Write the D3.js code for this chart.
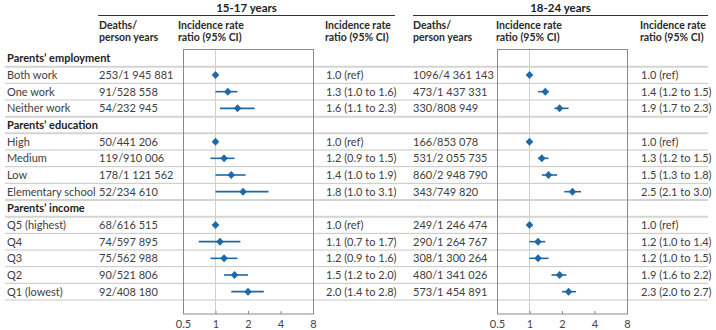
<!DOCTYPE html>
<html>
<head>
<meta charset="utf-8">
<script src="https://cdn.jsdelivr.net/npm/d3@7"></script>
<style>
  body { margin: 0; background: #fff; }
  text { font-family: Lato, "Open Sans", sans-serif; }
</style>
</head>
<body>
<div id="container"></div>
<script>
var width = 716,
    height = 330;

// data
var groups = ["Parents\u2019 employment", "Parents\u2019 education", "Parents\u2019 income"];
var categories = ["Both work", "One work", "Neither work",
    "High", "Medium", "Low", "Elementary school",
    "Q5 (highest)", "Q4", "Q3", "Q2", "Q1 (lowest)"];
var categoryGroup = [0, 0, 0, 1, 1, 1, 1, 2, 2, 2, 2, 2];

var deathsA = ["253/1 945 881", "91/528 558", "54/232 945",
    "50/441 206", "119/910 006", "178/1 121 562", "52/234 610",
    "68/616 515", "74/597 895", "75/562 988", "90/521 806", "92/408 180"];
var irrA = [1.0, 1.3, 1.6, 1.0, 1.2, 1.4, 1.8, 1.0, 1.1, 1.2, 1.5, 2.0];
var lowA = [null, 1.0, 1.1, null, 0.9, 1.0, 1.0, null, 0.7, 0.9, 1.2, 1.4];
var highA = [null, 1.6, 2.3, null, 1.5, 1.9, 3.1, null, 1.7, 1.6, 2.0, 2.8];

var deathsB = ["1096/4 361 143", "473/1 437 331", "330/808 949",
    "166/853 078", "531/2 055 735", "860/2 948 790", "343/749 820",
    "249/1 246 474", "290/1 264 767", "308/1 300 264", "480/1 341 026", "573/1 454 891"];
var irrB = [1.0, 1.4, 1.9, 1.0, 1.3, 1.5, 2.5, 1.0, 1.2, 1.2, 1.9, 2.3];
var lowB = [null, 1.2, 1.7, null, 1.2, 1.3, 2.1, null, 1.0, 1.0, 1.6, 2.0];
var highB = [null, 1.5, 2.3, null, 1.5, 1.8, 3.0, null, 1.4, 1.5, 2.2, 2.7];

var ticks = [0.5, 1, 2, 4, 8];

var svg = d3.select('#container')
    .append('svg')
    .attr('width', width)
    .attr('height', height);

// build rows: group header rows + category rows
var rows = [];
groups.forEach(function(g, gi) {
    rows.push({ key: 'g' + gi, header: true, label: g });
    categories.forEach(function(c, i) {
        if (categoryGroup[i] === gi) rows.push({ key: 'c' + i, header: false, label: c, i: i });
    });
});

var scaleY = d3.scaleBand()
    .domain(rows.map(function(d) { return d.key; }))
    .range([50, 300]);
var rowH = scaleY.bandwidth();

var txt = '#404040',
    blue = '#1f68a6';

// row separator lines
rows.forEach(function(d, k) {
    var next = rows[k + 1];
    var thick = d.header || (next && next.header);
    svg.append('line')
        .attr('x1', 5).attr('x2', 708)
        .attr('y1', scaleY(d.key) + rowH).attr('y2', scaleY(d.key) + rowH)
        .attr('stroke', thick ? '#d4d4d4' : '#c6c6c6')
        .attr('stroke-width', thick ? 2 : 1);
});

// row labels
rows.forEach(function(d) {
    svg.append('text')
        .attr('x', 7)
        .attr('y', scaleY(d.key) + rowH / 2 + 4)
        .attr('font-size', 11)
        .attr('font-weight', d.header ? 'bold' : 'normal')
        .attr('fill', d.header ? '#222' : txt)
        .text(d.label);
});

function fmt(v, lo, hi) {
    if (lo === null) return v.toFixed(1) + ' (ref)';
    return v.toFixed(1) + ' (' + lo.toFixed(1) + ' to ' + hi.toFixed(1) + ')';
}

function panel(opt) {
    var scaleX = d3.scaleLog().base(2)
        .domain([0.5, 8])
        .range([opt.x0, opt.x0 + 130]);

    // title + rule
    svg.append('line')
        .attr('x1', opt.lineX[0]).attr('x2', opt.lineX[1])
        .attr('y1', 15.5).attr('y2', 15.5)
        .attr('stroke', '#333');
    svg.append('text')
        .attr('x', (opt.lineX[0] + opt.lineX[1]) / 2)
        .attr('y', 12)
        .attr('text-anchor', 'middle')
        .attr('font-size', 11.5)
        .attr('font-weight', 'bold')
        .attr('fill', '#222')
        .text(opt.title);

    // column headers
    [[opt.deathsX, ['Deaths/', 'person years']],
     [opt.headX, ['Incidence rate', 'ratio (95% CI)']],
     [opt.textX, ['Incidence rate', 'ratio (95% CI)']]].forEach(function(h) {
        h[1].forEach(function(line, li) {
            svg.append('text')
                .attr('x', h[0])
                .attr('y', 29 + li * 12)
                .attr('font-size', 10.5)
                .attr('font-weight', 'bold')
                .attr('fill', '#2a2a2a')
                .text(line);
        });
    });

    // plot box
    svg.append('rect')
        .attr('x', opt.x0 + 0.5).attr('y', 49.5)
        .attr('width', 130).attr('height', 264.5)
        .attr('fill', 'none')
        .attr('stroke', '#8a8a8a');

    // reference line at 1
    svg.append('line')
        .attr('x1', scaleX(1)).attr('x2', scaleX(1))
        .attr('y1', 50).attr('y2', 313.5)
        .attr('stroke', '#f3c2bb');

    // axis
    var axis = svg.append('g')
        .attr('transform', 'translate(0,314)')
        .call(d3.axisBottom(scaleX).tickValues(ticks).tickFormat(d3.format('')).tickSize(-3).tickPadding(6));
    axis.select('.domain').remove();
    axis.selectAll('line').attr('stroke', '#8a8a8a');
    axis.selectAll('text')
        .attr('font-size', 11)
        .attr('fill', '#444')
        .style('font-family', 'Lato, "Open Sans", sans-serif');

    categories.forEach(function(c, i) {
        var cy = scaleY('c' + i) + rowH / 2;
        svg.append('text')
            .attr('x', opt.deathsX)
            .attr('y', cy + 4)
            .attr('font-size', 11)
            .attr('fill', txt)
            .text(opt.deaths[i]);
        svg.append('text')
            .attr('x', opt.textX + 1)
            .attr('y', cy + 4)
            .attr('font-size', 11)
            .attr('fill', txt)
            .text(fmt(opt.irr[i], opt.low[i], opt.high[i]));
        if (opt.low[i] !== null) {
            svg.append('line')
                .attr('x1', scaleX(opt.low[i])).attr('x2', scaleX(opt.high[i]))
                .attr('y1', cy).attr('y2', cy)
                .attr('stroke', blue)
                .attr('stroke-width', 1.6);
        }
        var px = scaleX(opt.irr[i]);
        svg.append('path')
            .attr('d', 'M' + px + ',' + (cy - 4) + 'L' + (px + 3.8) + ',' + cy +
                'L' + px + ',' + (cy + 4) + 'L' + (px - 3.8) + ',' + cy + 'Z')
            .attr('fill', blue);
    });
}

panel({
    title: '15-17 years',
    lineX: [98, 395],
    x0: 183,
    deathsX: 99,
    headX: 178,
    textX: 325,
    deaths: deathsA, irr: irrA, low: lowA, high: highA
});

panel({
    title: '18-24 years',
    lineX: [413, 708],
    x0: 497,
    deathsX: 413,
    headX: 496,
    textX: 640,
    deaths: deathsB, irr: irrB, low: lowB, high: highB
});
</script>
</body>
</html>
